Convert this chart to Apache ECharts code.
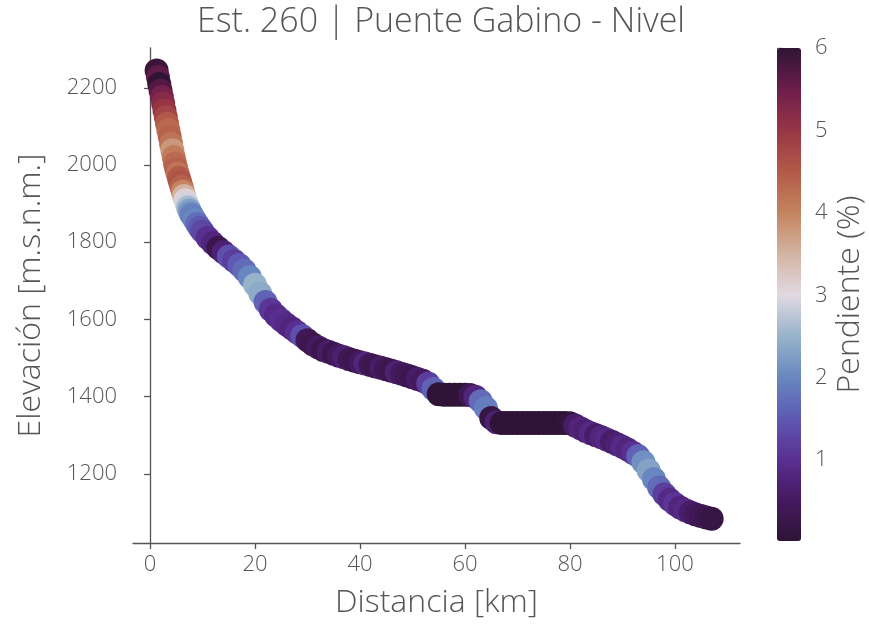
<!DOCTYPE html>
<html>
<head>
<meta charset="utf-8">
<script src="https://cdn.jsdelivr.net/npm/echarts@6/dist/echarts.min.js"></script>
<style>
html,body{margin:0;padding:0;background:#fff;}
#chart{width:869px;height:628px;}
</style>
</head>
<body>
<div id="chart"></div>
<script>
// Distance along river [km]
const distancia = [1.25,1.5,1.75,2.0,2.25,2.5,2.75,3.0,3.25,3.5,3.75,4.0,4.25,4.5,4.75,5.0,5.25,5.5,5.75,6.0,6.25,6.5,6.75,7.0,7.25,7.5,7.75,8.0,8.5,9,9.5,10,
  11,12,13,14,15,16,17,18,19,20,21,22,23,24,25,26,27,28,29,30,31,32,33,34,35,36,37,38,39,40,
  41,42,43,44,45,46,47,48,49,50,51,52,53,54,55,56,57,58,59,60,61,62,63,64,65,66,67,68,69,70,
  71,72,73,74,75,76,77,78,79,80,81,82,83,84,85,86,87,88,89,90,91,92,93,94,95,96,97,98,99,100,
  101,102,103,104,105,106,107];
// Elevation [m.s.n.m.]
const elevacion = [2245,2228,2210,2193,2176,2159,2141,2124,2107,2090,2073,2055,2038,2021,2004,1990,1978,1966,1955,1943,1931,1920,1909,1899,1890,1882,1875,1869,1858,1847,1837,1828,
  1811,1797,1785,1774,1763,1752,1741,1727,1710,1690,1667,1645,1625,1610,1598,1587,1577,1567,1557,1546,1536,1528,1521,1516,1511,1506,1502,1497,1493,1489,
  1486,1482,1478,1475,1471,1467,1463,1459,1455,1450,1446,1441,1434,1420,1406,1405,1405,1405,1405,1405,1404,1400,1388,1370,1345,1334,1332,1332,1332,1332,
  1332,1332,1332,1332,1332,1332,1332,1332,1332,1331,1325,1318,1311,1305,1300,1295,1289,1283,1277,1270,1263,1255,1246,1230,1209,1187,1165,1147,1133,1122,
  1113,1106,1100,1095,1091,1087,1084];
// Slope [%]
const pendiente = [5.9,5.6,6.0,5.7,5.4,5.2,5.0,4.8,4.5,4.3,4.4,4.2,3.8,4.1,4.3,4.4,4.2,4.5,4.6,4.4,4.0,3.5,3.1,2.9,2.6,2.3,2.1,1.9,2.0,1.7,1.5,1.3,
  1.0,0.8,0.3,0.7,1.4,1.2,1.5,1.7,2.0,2.5,2.4,1.6,1.1,0.9,1.0,0.9,0.8,1.0,1.4,0.4,0.3,0.5,0.3,0.6,0.3,0.5,0.7,0.4,0.3,0.5,
  0.8,0.4,0.3,0.6,0.4,0.3,0.7,0.5,0.4,0.3,0.6,0.5,1.2,1.6,0.05,0.05,0.05,0.05,0.05,0.05,0.4,0.8,1.7,1.9,0.2,0.7,0.05,0.05,0.05,0.05,
  0.05,0.05,0.05,0.05,0.05,0.05,0.05,0.05,0.05,0.1,0.6,0.8,0.7,0.9,0.6,0.8,0.9,0.6,0.7,0.9,0.8,1.0,1.6,2.1,2.3,2.0,1.7,1.2,0.9,1.1,
  0.8,0.9,0.6,0.5,0.4,0.3,0.2];

const xTicks = [0,20,40,60,80,100];
const yTicks = [1200,1400,1600,1800,2000,2200];
const cbTicks = [1,2,3,4,5,6];

const twilightShifted = ['#2f1436','#45195f','#5a2f93','#5e5ab3','#6888c0','#98b4ca','#e2d9e2','#d3b3a0','#c4845f','#b25a48','#983545','#6c1d4c','#2f1436'];

const txt = '#555555';
const axisCol = '#555555';
const font = 'Open Sans';
const plain = v => String(v);

const data = distancia.map((d,i)=>[d, elevacion[i], pendiente[i]]);

const chart = echarts.init(document.getElementById('chart'), null, {renderer:'canvas'});
chart.setOption({
  backgroundColor:'#ffffff',
  animation:false,
  textStyle:{fontFamily:font},
  title:{
    text:'Est. 260 | Puente Gabino - Nivel',
    left:436, top:0, textAlign:'center',
    textStyle:{fontFamily:font, fontSize:34, fontWeight:300, color:txt}
  },
  grid:[
    {left:133, top:48, width:607, height:495},
    {left:777, top:48, width:24, height:493}
  ],
  xAxis:[
    {type:'value', gridIndex:0, min:-3.25, max:112.4,
     name:'Distancia [km]', nameLocation:'middle', nameGap:44,
     nameTextStyle:{fontFamily:font, fontSize:32, fontWeight:300, color:txt},
     axisLine:{show:true, lineStyle:{color:axisCol, width:1.3}},
     axisTick:{show:true, length:6, lineStyle:{color:axisCol, width:1.3}, customValues:xTicks},
     axisLabel:{fontFamily:font, fontSize:22, fontWeight:300, color:txt, margin:11, customValues:xTicks, formatter:plain},
     splitLine:{show:false}},
    {type:'value', gridIndex:1, min:0, max:1, show:false}
  ],
  yAxis:[
    {type:'value', gridIndex:0, min:1021, max:2303,
     name:'Elevación [m.s.n.m.]', nameLocation:'middle', nameGap:86, nameRotate:90,
     nameTextStyle:{fontFamily:font, fontSize:32, fontWeight:300, color:txt},
     axisLine:{show:true, lineStyle:{color:axisCol, width:1.3}},
     axisTick:{show:true, length:6, lineStyle:{color:axisCol, width:1.3}, customValues:yTicks},
     axisLabel:{fontFamily:font, fontSize:22, fontWeight:300, color:txt, margin:16, customValues:yTicks, formatter:plain},
     splitLine:{show:false}},
    {type:'value', gridIndex:1, min:0.02, max:6, position:'right',
     name:'Pendiente (%)', nameLocation:'middle', nameGap:33, nameRotate:90,
     nameTextStyle:{fontFamily:font, fontSize:32, fontWeight:300, color:txt},
     axisLine:{show:false},
     axisTick:{show:true, length:6, lineStyle:{color:axisCol, width:1.3}, customValues:cbTicks},
     axisLabel:{fontFamily:font, fontSize:22, fontWeight:300, color:txt, margin:14, customValues:cbTicks, formatter:plain},
     splitLine:{show:false}}
  ],
  visualMap:{
    type:'continuous', min:0.02, max:6, dimension:2, seriesIndex:0,
    orient:'vertical', left:777, top:48, itemWidth:24, itemHeight:493,
    calculable:false, text:['',''], showLabel:false, padding:0,
    inRange:{color:twilightShifted}
  },
  series:[
    {type:'scatter', xAxisIndex:0, yAxisIndex:0, data:data, symbol:'circle', symbolSize:24,
     itemStyle:{opacity:1}},
    {type:'scatter', xAxisIndex:1, yAxisIndex:1, data:[]}
  ]
});
</script>
</body>
</html>
